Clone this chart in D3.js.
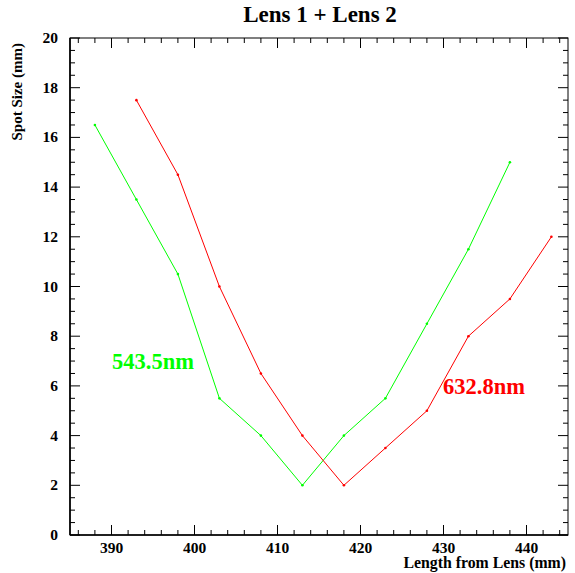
<!DOCTYPE html>
<html>
<head>
<meta charset="utf-8">
<script src="https://cdn.jsdelivr.net/npm/d3@7"></script>
<style>
  body { margin: 0; background: #fff; }
  text { font-family: "Liberation Serif", "Times New Roman", serif; font-weight: bold; }
</style>
</head>
<body>
<svg id="chart" width="575" height="573"></svg>
<script>
// data
const greenX = [388, 393, 398, 403, 408, 413, 418, 423, 428, 433, 438];
const greenY = [16.5, 13.5, 10.5, 5.5, 4, 2, 4, 5.5, 8.5, 11.5, 15];
const redX = [393, 398, 403, 408, 413, 418, 423, 428, 433, 438, 443];
const redY = [17.5, 14.5, 10, 6.5, 4, 2, 3.5, 5, 8, 9.5, 12];
const xTicks = [390, 400, 410, 420, 430, 440];
const yTicks = [0, 2, 4, 6, 8, 10, 12, 14, 16, 18, 20];

const margin = { top: 38, right: 7, bottom: 38, left: 70 };
const W = 575, H = 573;
const width = W - margin.left - margin.right;
const height = H - margin.top - margin.bottom;

const svg = d3.select("#chart");
const g = svg.append("g").attr("transform", `translate(${margin.left},${margin.top})`);

const x = d3.scaleLinear().domain([385, 445]).range([0, width]);
const y = d3.scaleLinear().domain([0, 20]).range([height, 0]);

const xMinor = d3.range(386, 445, 2).filter(v => !xTicks.includes(v));
const yMinor = d3.range(0.5, 20, 0.5).filter(v => !yTicks.includes(v));

// ticks, ROOT style: on all four sides, pointing inward
const tk = g.append("g").attr("stroke", "#000").attr("stroke-width", 1);
xTicks.forEach(v => {
  tk.append("line").attr("x1", x(v)).attr("x2", x(v)).attr("y1", height).attr("y2", height - 10);
  tk.append("line").attr("x1", x(v)).attr("x2", x(v)).attr("y1", 0).attr("y2", 10);
});
xMinor.forEach(v => {
  tk.append("line").attr("x1", x(v)).attr("x2", x(v)).attr("y1", height).attr("y2", height - 5);
  tk.append("line").attr("x1", x(v)).attr("x2", x(v)).attr("y1", 0).attr("y2", 5);
});
yTicks.forEach(v => {
  tk.append("line").attr("y1", y(v)).attr("y2", y(v)).attr("x1", 0).attr("x2", 10);
  tk.append("line").attr("y1", y(v)).attr("y2", y(v)).attr("x1", width).attr("x2", width - 10);
});
yMinor.forEach(v => {
  tk.append("line").attr("y1", y(v)).attr("y2", y(v)).attr("x1", 0).attr("x2", 5);
  tk.append("line").attr("y1", y(v)).attr("y2", y(v)).attr("x1", width).attr("x2", width - 5);
});

// frame
g.append("rect").attr("width", width).attr("height", height)
  .attr("fill", "none").attr("stroke", "#000").attr("stroke-width", 1);
g.append("line").attr("x1", 0).attr("x2", 0).attr("y1", 0).attr("y2", height)
  .attr("stroke", "#000").attr("stroke-width", 1.6);
g.append("line").attr("x1", 0).attr("x2", width).attr("y1", height).attr("y2", height)
  .attr("stroke", "#000").attr("stroke-width", 1.6);

// tick labels
g.selectAll(".xl").data(xTicks).join("text")
  .attr("x", d => x(d)).attr("y", height + 18)
  .attr("text-anchor", "middle").attr("font-size", 15.5).text(d => d);
g.selectAll(".yl").data(yTicks).join("text")
  .attr("x", -12).attr("y", d => y(d) + 5)
  .attr("text-anchor", "end").attr("font-size", 15.5).text(d => d);

// titles
svg.append("text").attr("x", 320).attr("y", 22).attr("text-anchor", "middle")
  .attr("font-size", 23).text("Lens 1 + Lens 2");
svg.append("text").attr("x", 566).attr("y", 568).attr("text-anchor", "end")
  .attr("font-size", 15.8).text("Length from Lens (mm)");
svg.append("text").attr("transform", "translate(22,43) rotate(-90)")
  .attr("text-anchor", "end").attr("font-size", 15).text("Spot Size (mm)");

// series
const line = d3.line().x(d => x(d[0])).y(d => y(d[1]));
const series = [
  { xs: greenX, ys: greenY, color: "#00ff00" },
  { xs: redX, ys: redY, color: "#ff0000" }
];
series.forEach(s => {
  const pts = s.xs.map((v, i) => [v, s.ys[i]]);
  g.append("path").datum(pts).attr("d", line)
    .attr("fill", "none").attr("stroke", s.color).attr("stroke-width", 1);
  g.selectAll(null).data(pts).join("circle")
    .attr("cx", d => x(d[0])).attr("cy", d => y(d[1])).attr("r", 1.3)
    .attr("fill", s.color);
});

// labels
svg.append("text").attr("x", 112).attr("y", 369).attr("fill", "#00ff00")
  .attr("font-size", 22.5).text("543.5nm");
svg.append("text").attr("x", 443).attr("y", 394).attr("fill", "#ff0000")
  .attr("font-size", 22.5).text("632.8nm");
</script>
</body>
</html>
